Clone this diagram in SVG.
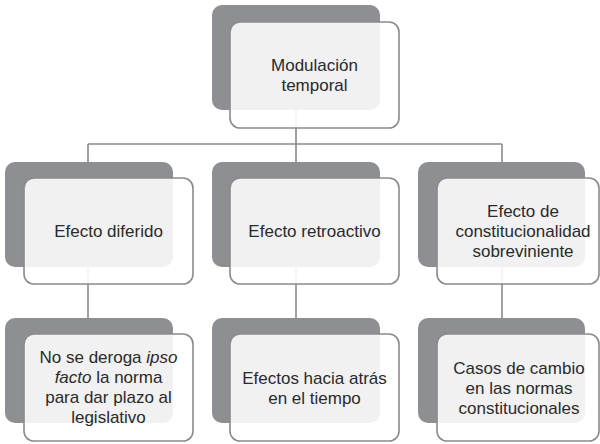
<svg xmlns="http://www.w3.org/2000/svg" width="600" height="444" viewBox="0 0 600 444">
<style>
.bg{fill:#8e8f93}
.fg{fill:#ffffff;fill-opacity:0.88;stroke:#8a8a8c;stroke-width:1.6}
.con{stroke:#8a8a8c;stroke-width:1.6;fill:none}
text{font-family:"Liberation Sans",Arial,sans-serif;font-size:17px;fill:#2a2a2a;text-anchor:middle}
</style>
<rect width="600" height="444" fill="#ffffff"/>
<g id="connectors">
<path class="con" d="M296,110 V144 M88,144 H502 M88,144 V162 M296,144 V162 M502,144 V162"/>
<path class="con" d="M88,267 V318 M296,267 V318 M502,267 V318"/>
</g>
<g id="n-modulacion">
<rect class="bg" x="212" y="5" width="168" height="105" rx="10"/>
<rect class="fg" x="230" y="22" width="169" height="106" rx="10"/>
<text x="314.5" y="71">Modulación</text>
<text x="314.5" y="91">temporal</text>
</g>
<g id="n-diferido">
<rect class="bg" x="5" y="162" width="168" height="105" rx="10"/>
<rect class="fg" x="24" y="178" width="169" height="106" rx="10"/>
<text x="108.5" y="237">Efecto diferido</text>
</g>
<g id="n-retroactivo">
<rect class="bg" x="212" y="162" width="168" height="105" rx="10"/>
<rect class="fg" x="230" y="178" width="169" height="106" rx="10"/>
<text x="314.5" y="237">Efecto retroactivo</text>
</g>
<g id="n-sobreviniente">
<rect class="bg" x="418" y="162" width="167" height="105" rx="10"/>
<rect class="fg" x="437" y="178" width="162" height="106" rx="10"/>
<text x="523" y="217">Efecto de</text>
<text x="523" y="237">constitucionalidad</text>
<text x="523" y="257">sobreviniente</text>
</g>
<g id="n-ipso">
<rect class="bg" x="5" y="318" width="168" height="105" rx="10"/>
<rect class="fg" x="24" y="334" width="169" height="107" rx="10"/>
<text x="108.5" y="363">No se deroga <tspan font-style="italic">ipso</tspan></text>
<text x="108.5" y="383"><tspan font-style="italic">facto</tspan> la norma</text>
<text x="108.5" y="403">para dar plazo al</text>
<text x="108.5" y="423">legislativo</text>
</g>
<g id="n-atras">
<rect class="bg" x="212" y="318" width="168" height="105" rx="10"/>
<rect class="fg" x="230" y="334" width="169" height="107" rx="10"/>
<text x="314.5" y="384">Efectos hacia atrás</text>
<text x="314.5" y="404">en el tiempo</text>
</g>
<g id="n-casos">
<rect class="bg" x="418" y="318" width="167" height="105" rx="10"/>
<rect class="fg" x="437" y="334" width="162" height="107" rx="10"/>
<text x="519" y="374">Casos de cambio</text>
<text x="519" y="394">en las normas</text>
<text x="519" y="414">constitucionales</text>
</g>
</svg>
